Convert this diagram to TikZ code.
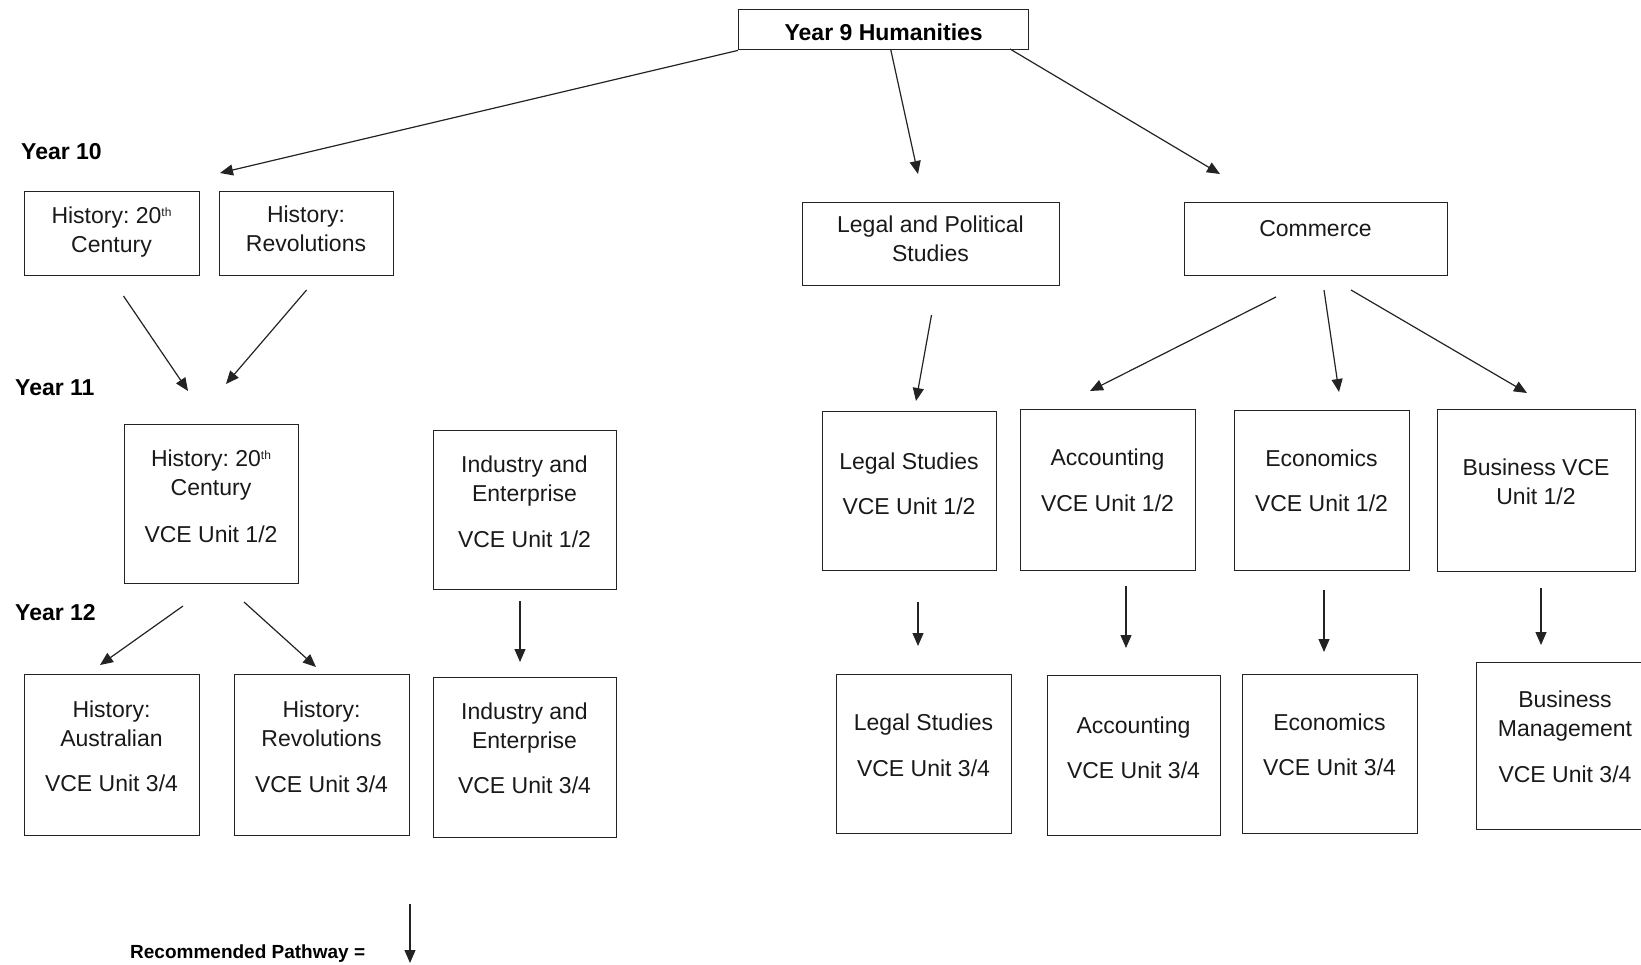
\documentclass[tikz,border=0pt]{standalone}
\usepackage{fontspec}
\setmainfont{Liberation Sans}
\usetikzlibrary{arrows.meta}
\definecolor{linec}{RGB}{35,35,35}
\definecolor{txtc}{RGB}{25,25,25}
\frenchspacing
\tikzset{
  box/.style={draw=linec, line width=1.4pt, inner sep=0pt, anchor=north west},
  txt/.style={text=txtc, inner sep=0pt, anchor=north, align=center, font=\fontsize{23}{29}\selectfont},
  lbl/.style={text=black, inner sep=0pt, anchor=west, font=\bfseries\fontsize{23}{29}\selectfont},
  arr/.style={draw=linec, line width=1.2pt, -{Triangle[length=13pt,width=11pt]}},
}
\newcommand{\bx}[5]{\node[box, minimum width={#4-#2}, minimum height={#5-#3}] (#1) at (#2,#3) {};}
\newcommand{\thsup}{\raisebox{7pt}{\fontsize{12}{12}\selectfont th}}
\begin{document}
\begin{tikzpicture}[x=1pt,y=-1pt]
\useasboundingbox (0,0) rectangle (1641,965);

% top box
\node[box, minimum width=290, minimum height=40, text=black] (y9) at (738,9) {};
\node[lbl, anchor=center] (y9t) at ([yshift=-2.5pt]y9.center) {Year 9 Humanities};

% row labels
\node[lbl] (l10) at (21,152) {Year 10};
\node[lbl] (l11) at (15,388) {Year 11};
\node[lbl] (l12) at (15,613) {Year 12};

% Year 10 boxes
\bx{h20a}{24}{191}{199}{275}
\bx{hreva}{219}{191}{393}{275}
\bx{lps}{802}{202}{1059}{285}
\bx{com}{1184}{202}{1447}{275}
\node[txt] (h20at) at (111.5,207) {History: 20\thsup\\Century};
\node[txt] (hrevat) at (306,205.2) {History:\\Revolutions};
\node[txt] (lpst) at (930.5,215.7) {Legal and Political\\Studies};
\node[txt] (comt) at (1315.5,220.7) {Commerce};

% Year 11 boxes
\bx{h20b}{124}{424}{298}{583}
\bx{ieb}{433}{430}{616}{589}
\bx{legb}{822}{411}{996}{570}
\bx{accb}{1020}{409}{1195}{570}
\bx{ecob}{1234}{410}{1409}{570}
\bx{busb}{1437}{409}{1635}{571}
\node[txt] (h20bt) at (211,449.5) {History: 20\thsup\\Century\\[18pt]VCE Unit 1/2};
\node[txt] (iebt) at (524.5,455.3) {Industry and\\Enterprise\\[17pt]VCE Unit 1/2};
\node[txt] (legbt) at (909,452.2) {Legal Studies\\[16pt]VCE Unit 1/2};
\node[txt] (accbt) at (1107.5,448.7) {Accounting\\[17pt]VCE Unit 1/2};
\node[txt] (ecobt) at (1321.5,449.7) {Economics\\[16pt]VCE Unit 1/2};
\node[txt] (busbt) at (1536,458.5) {Business VCE\\Unit 1/2};

% Year 12 boxes
\bx{hausc}{24}{674}{199}{835}
\bx{hrevc}{234}{674}{409}{835}
\bx{iec}{433}{677}{616}{837}
\bx{legc}{836}{674}{1011}{833}
\bx{accc}{1047}{675}{1220}{835}
\bx{ecoc}{1242}{674}{1417}{833}
\bx{bmc}{1476}{662}{1656}{829}
\node[txt] (hausct) at (111.5,700.2) {History:\\Australian\\[16pt]VCE Unit 3/4};
\node[txt] (hrevct) at (321.5,700.2) {History:\\Revolutions\\[17pt]VCE Unit 3/4};
\node[txt] (iect) at (524.5,702.3) {Industry and\\Enterprise\\[16pt]VCE Unit 3/4};
\node[txt] (legct) at (923.5,713.7) {Legal Studies\\[17pt]VCE Unit 3/4};
\node[txt] (accct) at (1133.5,716.7) {Accounting\\[16pt]VCE Unit 3/4};
\node[txt] (ecoct) at (1329.5,713.7) {Economics\\[16pt]VCE Unit 3/4};
\node[txt] (bmct) at (1565,690.7) {Business\\Management\\[17pt]VCE Unit 3/4};

% arrow end points
\coordinate (e1) at (220,173);
\coordinate (s2) at (890.6,49);
\coordinate (e2) at (918,174);
\coordinate (s3) at (1010,49);
\coordinate (e3) at (1220,174);
\coordinate (s4) at (123.5,296);  \coordinate (e4) at (188,391);
\coordinate (s5) at (306.6,290);  \coordinate (e5) at (226,384);
\coordinate (s6) at (931.5,315);  \coordinate (e6) at (916,401);
\coordinate (s7) at (1276,297);   \coordinate (e7) at (1090,391);
\coordinate (s8) at (1324,290);   \coordinate (e8) at (1339,392);
\coordinate (s9) at (1351,290);   \coordinate (e9) at (1527,393);
\coordinate (s10) at (183,606);   \coordinate (e10) at (100,665);
\coordinate (s11) at (244,602);   \coordinate (e11) at (316,667);
\coordinate (s12) at (520,601);   \coordinate (e12) at (520,662);
\coordinate (s13) at (918,602);   \coordinate (e13) at (918,646);
\coordinate (s14) at (1126,586);  \coordinate (e14) at (1126,648);
\coordinate (s15) at (1324,590);  \coordinate (e15) at (1324,652);
\coordinate (s16) at (1541,588);  \coordinate (e16) at (1541,645);
\coordinate (s17) at (410,904);   \coordinate (e17) at (410,963);

\draw[arr] (y9.south west) -- (e1);
\draw[arr] (s2) -- (e2);
\draw[arr] (s3) -- (e3);
\draw[arr] (s4) -- (e4);
\draw[arr] (s5) -- (e5);
\draw[arr] (s6) -- (e6);
\draw[arr] (s7) -- (e7);
\draw[arr] (s8) -- (e8);
\draw[arr] (s9) -- (e9);
\draw[arr] (s10) -- (e10);
\draw[arr] (s11) -- (e11);
\draw[arr] (s12) -- (e12);
\draw[arr] (s13) -- (e13);
\draw[arr] (s14) -- (e14);
\draw[arr] (s15) -- (e15);
\draw[arr] (s16) -- (e16);
\draw[arr] (s17) -- (e17);

% legend
\node[lbl, font=\bfseries\fontsize{19}{23}\selectfont] (legend) at (130,954) {Recommended Pathway =};
\end{tikzpicture}
\end{document}
